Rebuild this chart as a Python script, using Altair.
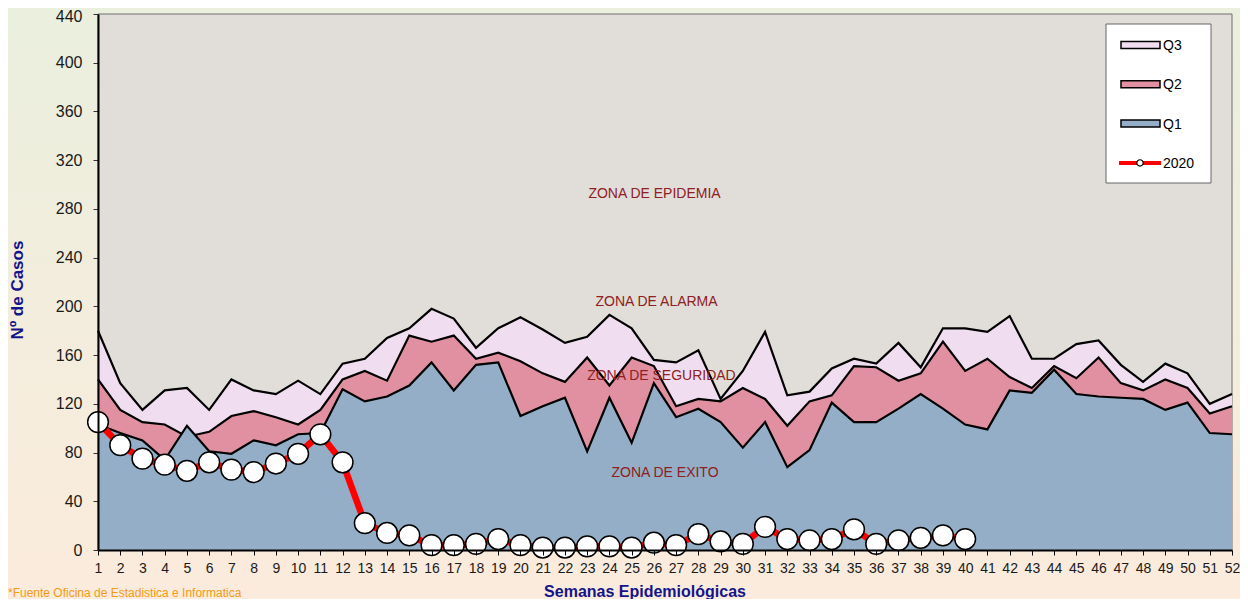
import altair as alt
import pandas as pd

# ---------------- data ----------------
weeks = list(range(1, 53))
q3 = [180, 137, 115, 131, 133, 115, 140, 131, 128, 139, 128, 153, 157, 174, 182,
      198, 190, 166, 182, 191, 181, 170, 175, 193, 182, 156, 154, 164, 124, 147, 179, 127,
      130,
      149, 157, 153, 170, 150, 182, 182, 179, 192, 157, 157, 169, 172, 152, 138, 153, 145, 120, 128]
q2 = [140, 115, 105, 103, 93, 97, 110, 114, 109, 103, 115, 140, 147, 139, 176,
      171, 176, 157, 162, 155, 145, 138, 158, 135, 158, 151, 118, 124, 122, 133, 124, 102, 122,
      127, 151, 150, 139, 145, 171, 147, 157, 142, 133, 151, 141, 158, 137, 131, 140, 133, 112, 118]
q1 = [103, 96, 90, 74, 102, 81, 79, 90, 86, 95, 96, 132, 122, 126, 135,
      154, 131, 152, 154, 110, 118, 125, 81, 125, 88, 137, 109, 116, 105, 84, 105, 68, 82,
      121, 105, 105, 116, 128, 116, 103, 99, 131, 129, 148, 128, 126, 125, 124, 115, 121, 96, 95]
weeks_2020 = list(range(1, 41))
cases_2020 = [105, 86, 75, 70, 65, 72, 66, 64, 71, 79, 95, 72, 22, 14, 12, 4, 4, 5, 9, 4,
              2, 2, 3, 3, 2, 6, 4, 13, 7, 5, 19, 9, 8, 9, 17, 5, 8, 10, 12, 9]

zone_labels = ["ZONA DE EPIDEMIA", "ZONA DE ALARMA", "ZONA DE SEGURIDAD", "ZONA DE EXITO"]
zone_week = [26.03, 26.12, 26.34, 26.5]
zone_value = [292.2, 203.2, 142.8, 63.5]

y_ticks = list(range(0, 441, 40))
legend_labels = ["Q3", "Q2", "Q1", "2020"]
legend_fills = ["#F0DEF0", "#E090A0", "#94AEC7", "#FF0000"]

y_title = "Nº de Casos"
x_title = "Semanas Epidemiológicas"
source_note = "*Fuente  Oficina  de Estadistica   e Informatica"

# ---------------- layout ----------------
W, H = 1134, 536
PAD_L, PAD_T, PAD_R, PAD_B = 90, 6, 8, 49
FONT = "Liberation Sans, Arial, sans-serif"

df = pd.DataFrame({"week": weeks, "q3": q3, "q2": q2, "q1": q1})
df20 = pd.DataFrame({"week": weeks_2020, "cases": cases_2020})
dfz = pd.DataFrame({"week": zone_week, "value": zone_value, "label": zone_labels})
one = pd.DataFrame({"a": [0]})

xscale = alt.Scale(domain=[1, 52], nice=False, zero=False)
yscale = alt.Scale(domain=[0, 440], nice=False)

xaxis = alt.Axis(values=weeks, title=None, grid=False, labelFontSize=14, labelFont=FONT,
                 labelColor="#1a1a1a", tickColor="black", tickSize=5, tickWidth=1,
                 domainColor="black", domainWidth=2, labelPadding=6, zindex=1,
                 labelFlush=False, labelOverlap=False)
yaxis = alt.Axis(values=y_ticks, title=None, grid=False, labelFontSize=16, labelFont=FONT,
                 labelColor="#1a1a1a", tickColor="#333", tickSize=5, tickWidth=1,
                 domainColor="black", domainWidth=2, labelPadding=11, zindex=1, format="d",
                 labelOffset={"condition": {"test": "datum.value == 440", "value": 2}, "value": 0})


def X(field):
    return alt.X(f"{field}:Q", scale=xscale, axis=xaxis)


def Y(field):
    return alt.Y(f"{field}:Q", scale=yscale, axis=yaxis)


gradient = {"gradient": "linear", "x1": 0, "y1": 0, "x2": 0, "y2": 1,
            "stops": [{"offset": 0, "color": "#EAEFDE"}, {"offset": 1, "color": "#FBEBDC"}]}

background = alt.Chart(one).mark_rect(fill=gradient, strokeWidth=0).encode(
    x=alt.value(-PAD_L), x2=alt.value(W + PAD_R), y=alt.value(-PAD_T), y2=alt.value(H + PAD_B))

plot_bg = alt.Chart(one).mark_rect(fill="#E1DEDA", stroke="#6f6f6f", strokeWidth=1).encode(
    x=alt.value(0), x2=alt.value(W), y=alt.value(0), y2=alt.value(H))

line_def = {"color": "black", "strokeWidth": 2.2}
area_q3 = alt.Chart(df).mark_area(color="#F0DEF0", opacity=1, line=line_def).encode(x=X("week"), y=Y("q3"))
area_q2 = alt.Chart(df).mark_area(color="#E090A0", opacity=1, line=line_def).encode(x=X("week"), y=Y("q2"))
area_q1 = alt.Chart(df).mark_area(color="#94AEC7", opacity=1, line=line_def).encode(x=X("week"), y=Y("q1"))

zones = alt.Chart(dfz).mark_text(font=FONT, fontSize=14, color="#8E2020", baseline="middle",
                                 align="center").encode(x=X("week"), y=Y("value"), text="label:N")

line20 = alt.Chart(df20).mark_line(color="#FF0000", strokeWidth=6.5).encode(x=X("week"), y=Y("cases"))
pts20 = alt.Chart(df20).mark_point(shape="circle", size=430, fill="white", fillOpacity=1,
                                   stroke="black", strokeWidth=1.5, opacity=1).encode(
    x=X("week"), y=Y("cases"))

# ---------------- legend (manual) ----------------
leg_layers = [alt.Chart(one).mark_rect(fill="white", stroke="#666666", strokeWidth=1).encode(
    x=alt.value(1008), x2=alt.value(1113), y=alt.value(10), y2=alt.value(169))]
for i, (lab, col) in enumerate(zip(legend_labels, legend_fills)):
    cy = 31 + 39.3 * i
    if lab != "2020":
        leg_layers.append(alt.Chart(one).mark_rect(fill=col, stroke="black", strokeWidth=1.5).encode(
            x=alt.value(1023), x2=alt.value(1062), y=alt.value(cy - 3.5), y2=alt.value(cy + 3.5)))
    else:
        leg_layers.append(alt.Chart(one).mark_rule(color=col, strokeWidth=4).encode(
            x=alt.value(1021), x2=alt.value(1063), y=alt.value(cy)))
        leg_layers.append(alt.Chart(one).mark_point(shape="circle", size=40, fill="white", fillOpacity=1,
                                                    stroke="black", strokeWidth=1.2, opacity=1).encode(
            x=alt.value(1042), y=alt.value(cy)))
    leg_layers.append(alt.Chart(one).mark_text(text=lab, font=FONT, fontSize=14, color="black",
                                               align="left", baseline="middle").encode(
        x=alt.value(1065), y=alt.value(cy + 1)))

# ---------------- titles / notes ----------------
ytitle = alt.Chart(one).mark_text(text=y_title, font=FONT, fontSize=17, fontWeight="bold",
                                  color="#14148A", angle=270, align="center", baseline="middle").encode(
    x=alt.value(-80), y=alt.value(276))
xtitle = alt.Chart(one).mark_text(text=x_title, font=FONT, fontSize=16, fontWeight="bold",
                                  color="#14148A", align="center", baseline="middle").encode(
    x=alt.value(547), y=alt.value(578))
note = alt.Chart(one).mark_text(text=source_note, font="Liberation Sans Narrow, Arial Narrow, Liberation Sans",
                                fontSize=12, color="#F59A12", align="left", baseline="middle").encode(
    x=alt.value(-PAD_L), y=alt.value(579))

chart = alt.layer(
    background, plot_bg, area_q3, area_q2, area_q1, zones, line20, pts20,
    *leg_layers, ytitle, xtitle, note
).properties(
    width=W, height=H,
    autosize=alt.AutoSizeParams(type="none"),
    padding={"left": PAD_L, "top": PAD_T, "right": PAD_R, "bottom": PAD_B},
).configure_view(stroke=None).configure(background="#F3EEDF")

chart.save("out.html", embed_options={"renderer": "svg", "actions": False})
